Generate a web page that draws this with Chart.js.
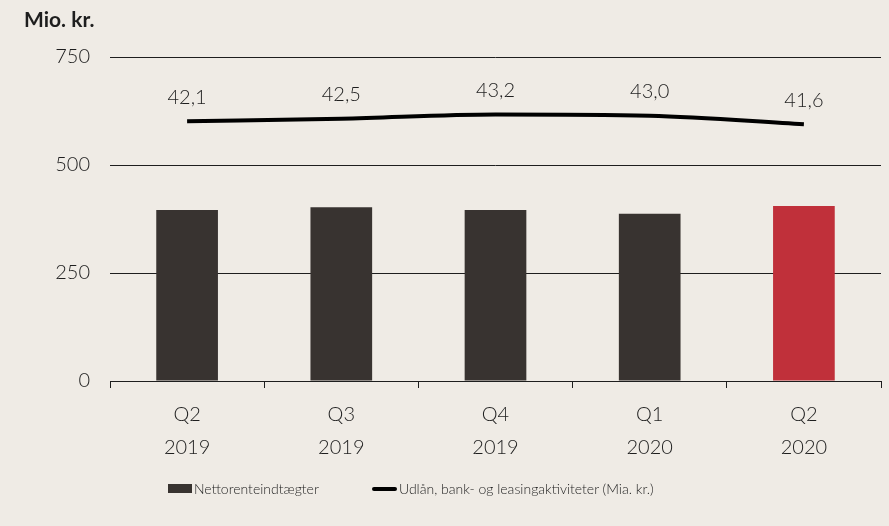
<!DOCTYPE html>
<html>
<head>
<meta charset="utf-8">
<script src="https://cdn.jsdelivr.net/npm/chart.js@4/dist/chart.umd.min.js"></script>
<style>
    html, body { margin: 0; padding: 0; background: #efebe5; }
    #wrap { position: relative; width: 889px; height: 526px; font-family: Lato, "Open Sans", sans-serif; color: #1e1e1e; }
    #unit { position: absolute; left: 24px; top: 6px; font-size: 21px; font-weight: bold; }
    #legend { position: absolute; top: 480px; left: 0; width: 889px; font-size: 14px; font-weight: 300; }
    .item { position: absolute; display: flex; align-items: center; white-space: nowrap; }
    .box { width: 24px; height: 9px; background: #383330; margin-right: 2px; }
    .ln { width: 25px; height: 4px; background: #000; border-radius: 2px; margin-right: 2px; }
</style>
</head>
<body>
<div id="wrap">
    <canvas id="chart" width="889" height="526"></canvas>
    <div id="unit">Mio. kr.</div>
    <div id="legend">
        <div class="item" style="left:168px"><span class="box"></span>Nettorenteindtægter</div>
        <div class="item" style="left:372px"><span class="ln"></span>Udlån, bank- og leasingaktiviteter (Mia. kr.)</div>
    </div>
</div>
<script>
const categories = [["Q2", "2019"], ["Q3", "2019"], ["Q4", "2019"], ["Q1", "2020"], ["Q2", "2020"]];
const netInterest = [396, 402, 396, 387, 405];
const lending = [42.1, 42.5, 43.2, 43.0, 41.6];
const barColors = ["#383330", "#383330", "#383330", "#383330", "#c0303a"];
const yTicks = [0, 250, 500, 750];

const FONT = "Lato, 'Open Sans', sans-serif";

// draws the lending values above the line
const lineLabels = {
    id: "lineLabels",
    afterDatasetsDraw(chart) {
        const ctx = chart.ctx;
        const meta = chart.getDatasetMeta(1);
        ctx.save();
        ctx.font = "300 20px " + FONT;
        ctx.fillStyle = "#1e1e1e";
        ctx.textAlign = "center";
        ctx.textBaseline = "middle";
        meta.data.forEach((pt, i) => {
            ctx.fillText(lending[i].toFixed(1).replace(".", ","), pt.x, pt.y - 24);
        });
        ctx.restore();
    }
};

new Chart(document.getElementById("chart"), {
    data: {
        labels: categories,
        datasets: [
            {
                type: "bar",
                data: netInterest,
                backgroundColor: barColors,
                barPercentage: 0.4,
                categoryPercentage: 1,
                yAxisID: "y",
                order: 2,
            },
            {
                type: "line",
                data: lending,
                borderColor: "#000",
                borderWidth: 4,
                pointRadius: 0,
                tension: 0.3,
                cubicInterpolationMode: "monotone",
                yAxisID: "y2",
                order: 1,
            }
        ]
    },
    options: {
        responsive: false,
        animation: false,
        layout: { padding: { top: 57, right: 8, left: 0, bottom: 0 } },
        plugins: { legend: { display: false }, tooltip: { enabled: false } },
        scales: {
            x: {
                offset: true,
                grid: { offset: true, drawOnChartArea: false, drawTicks: true, tickLength: 7, color: "#1e1e1e", lineWidth: 1 },
                border: { display: true, color: "#1e1e1e", width: 1 },
                ticks: { color: "#1e1e1e", font: { size: 20, family: FONT, weight: 300, lineHeight: 1.65 }, padding: 10, maxRotation: 0 },
                afterFit(scale) { scale.height = 145; }
            },
            y: {
                min: 0,
                max: 750,
                afterBuildTicks(scale) { scale.ticks = yTicks.map(v => ({ value: v })); },
                grid: { drawTicks: false, color: (c) => c.tick && c.tick.value === 0 ? "rgba(0,0,0,0)" : "#1e1e1e", lineWidth: 1 },
                border: { display: false },
                ticks: { color: "#1e1e1e", font: { size: 20, family: FONT, weight: 300 }, padding: 20 },
                afterFit(scale) { scale.width = 110; }
            },
            y2: {
                display: false,
                min: 0,
                max: 52.5,
            }
        }
    },
    plugins: [lineLabels]
});
</script>
</body>
</html>
